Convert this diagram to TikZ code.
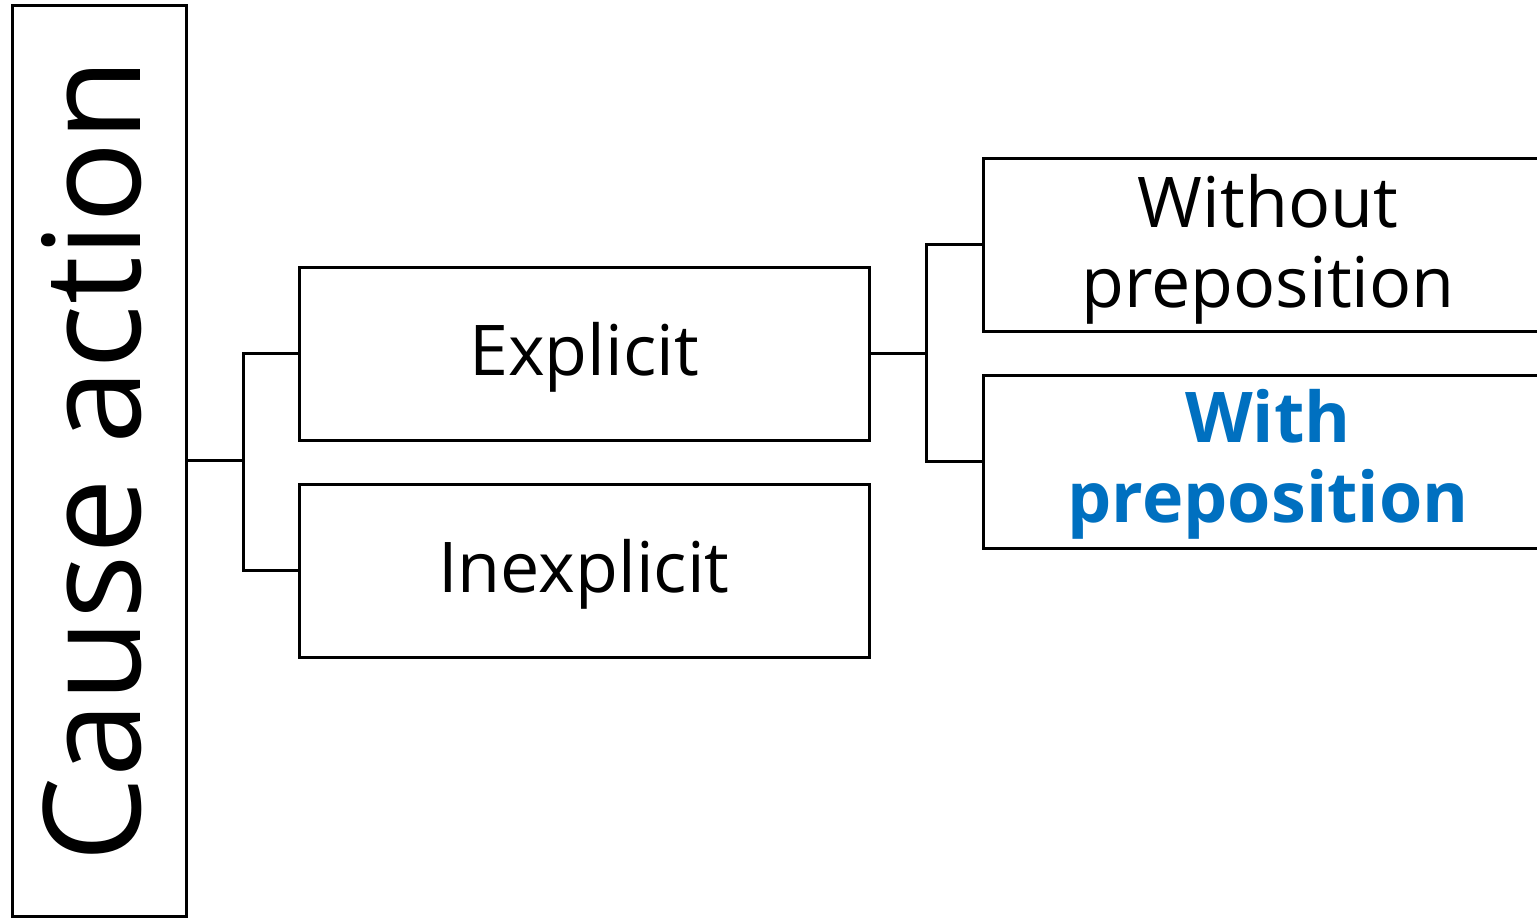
\documentclass[tikz,border=0pt]{standalone}
\usepackage{fontspec}
\setmainfont{Open Sans}
\usepackage{tikz}
\usetikzlibrary{positioning}
\definecolor{prepblue}{HTML}{0070C0}
\tikzset{box/.style={draw, line width=1.5pt, minimum width=285pt, minimum height=86.5pt,
    align=center, inner sep=0pt, font=\fontsize{35}{40}\selectfont}}
\tikzset{oneline/.style={text height=21.5pt, text depth=0pt}}
\tikzset{link/.style={line width=1.5pt}}

\begin{document}
\begin{tikzpicture}[x=0.5pt, y=-0.5pt]
    \clip (0, 0) rectangle (1537, 918);
    \node[draw, line width=1.5pt, rotate=90, minimum width=455.5pt, minimum height=87pt,
        text height=41pt, text depth=0pt,
        inner sep=0pt, font=\fontsize{67.5}{70}\selectfont] (cause) at (99, 460.5) {Cause action};
    \node[box, oneline] (explicit) at (584, 353.5) {Explicit};
    \node[box, oneline] (inexplicit) at (584, 570.5) {Inexplicit};
    \node[box] (without) at (1268, 244.5) {\rule{0pt}{31.5pt}Without\\preposition};
    \node[box, text=prepblue, font=\fontsize{35}{40}\selectfont\bfseries] (with) at (1268, 461.5) {\rule{0pt}{29pt}With\\preposition};

    \draw[link] (cause.south) -- ++(56, 0) coordinate (fork1) |- (explicit.west);
    \draw[link] (fork1) |- (inexplicit.west);
    \draw[link] (explicit.east) -- ++(56, 0) coordinate (fork2) |- (without.west);
    \draw[link] (fork2) |- (with.west);

    % \draw[help lines] (0,0) grid (1537,918);
\end{tikzpicture}
\end{document}
